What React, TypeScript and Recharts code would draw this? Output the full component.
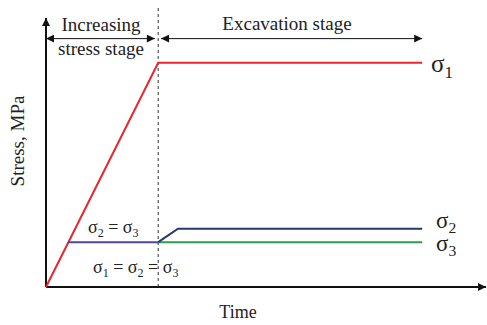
import * as React from 'react';
import { LineChart, Line, XAxis, YAxis, ReferenceLine } from 'recharts';

// time (arbitrary units) and stress (arbitrary MPa) for each principal stress path
const sigma1Time = [0, 5.1, 17.1];
const sigma1Stress = [0, 25, 25];

const equalTime = [1, 5.1];
const equalStress = [5, 5];

const sigma2Time = [5.1, 6, 17.1];
const sigma2Stress = [5, 6.5, 6.5];

const sigma3Time = [5.1, 17.1];
const sigma3Stress = [5, 5];

const stageBoundary = 5.1;
const timeMax = 20;
const stressMax = 30;
const stageArrowY = 27.7;
const stageArrowLeftEnd = 4.95;
const stageArrowRightStart = 5.23;
const stageArrowRightEnd = 17.1;

const toPoints = (t: number[], v: number[]) => t.map((x, i) => ({ t: x, v: v[i] }));

const serif = '"Liberation Serif", "Times New Roman", serif';

function Sigma({ x, y, sub, size }: { x: number; y: number; sub: string; size: number }) {
  return (
    <text x={x} y={y} fontFamily={serif} fontSize={size} fill="#222">
      σ
      <tspan fontSize={size * 0.68} dy={size * 0.22}>{sub}</tspan>
    </text>
  );
}

export default function App() {
  const W = 487;
  const H = 325;
  const sub = 12;

  return (
    <div style={{ position: 'absolute', left: 0, top: 0, width: W, height: H, background: '#fff' }}>
      <LineChart width={W} height={H} margin={{ top: 18, right: 1, bottom: 38, left: 46 }}>
        <defs>
          <marker
            id="arrowHead"
            viewBox="0 0 10 10"
            refX="10"
            refY="5"
            markerUnits="userSpaceOnUse"
            markerWidth="10"
            markerHeight="8"
            orient="auto-start-reverse"
          >
            <path d="M0,0 L10,5 L0,10 Z" fill="#111" />
          </marker>
        </defs>
        <XAxis dataKey="t" type="number" domain={[0, timeMax]} hide />
        <YAxis type="number" domain={[0, stressMax]} hide />

        {/* stage boundary */}
        <ReferenceLine
          segment={[{ x: stageBoundary, y: 0 }, { x: stageBoundary, y: 31.4 }]}
          stroke="#333"
          strokeWidth={1}
          strokeDasharray="3 3"
          ifOverflow="visible"
        />

        {/* axes with arrowheads */}
        <ReferenceLine
          segment={[{ x: 0, y: 0 }, { x: timeMax, y: 0 }]}
          stroke="#111"
          strokeWidth={2}
          markerEnd="url(#arrowHead)"
          ifOverflow="visible"
        />
        <ReferenceLine
          segment={[{ x: 0, y: 0 }, { x: 0, y: stressMax }]}
          stroke="#111"
          strokeWidth={2}
          markerEnd="url(#arrowHead)"
          ifOverflow="visible"
        />

        {/* stage arrows */}
        <ReferenceLine
          segment={[{ x: 0, y: stageArrowY }, { x: stageArrowLeftEnd, y: stageArrowY }]}
          stroke="#111"
          strokeWidth={1}
          markerStart="url(#arrowHead)"
          markerEnd="url(#arrowHead)"
          ifOverflow="visible"
        />
        <ReferenceLine
          segment={[{ x: stageArrowRightStart, y: stageArrowY }, { x: stageArrowRightEnd, y: stageArrowY }]}
          stroke="#111"
          strokeWidth={1}
          markerStart="url(#arrowHead)"
          markerEnd="url(#arrowHead)"
          ifOverflow="visible"
        />

        <Line
          data={toPoints(sigma1Time, sigma1Stress)}
          dataKey="v"
          stroke="#e8262b"
          strokeWidth={2}
          dot={false}
          isAnimationActive={false}
        />
        <Line
          data={toPoints(sigma3Time, sigma3Stress)}
          dataKey="v"
          stroke="#2f9b4e"
          strokeWidth={2}
          dot={false}
          isAnimationActive={false}
        />
        <Line
          data={toPoints(sigma2Time, sigma2Stress)}
          dataKey="v"
          stroke="#27386f"
          strokeWidth={2}
          dot={false}
          isAnimationActive={false}
        />
        <Line
          data={toPoints(equalTime, equalStress)}
          dataKey="v"
          stroke="#54459c"
          strokeWidth={2}
          dot={false}
          isAnimationActive={false}
        />

        {/* stage titles */}
        <text x={101} y={31} textAnchor="middle" fontFamily={serif} fontSize={19} fill="#222">
          Increasing
        </text>
        <text x={101} y={55} textAnchor="middle" fontFamily={serif} fontSize={19} fill="#222">
          stress stage
        </text>
        <text x={287} y={30} textAnchor="middle" fontFamily={serif} fontSize={19} fill="#222">
          Excavation stage
        </text>

        {/* axis titles */}
        <text x={238} y={318} textAnchor="middle" fontFamily={serif} fontSize={18} fill="#222">
          Time
        </text>
        <text
          x={24}
          y={141}
          textAnchor="middle"
          fontFamily={serif}
          fontSize={19}
          fill="#222"
          transform="rotate(-90 24 141)"
        >
          Stress, MPa
        </text>

        {/* series labels */}
        <Sigma x={431} y={72} sub="1" size={25} />
        <Sigma x={436} y={228} sub="2" size={23} />
        <Sigma x={436} y={251} sub="3" size={23} />

        {/* stress state notes */}
        <text x={88} y={233} fontFamily={serif} fontSize={18} fill="#222">
          σ<tspan fontSize={sub} dy={4}>2</tspan>
          <tspan dy={-4}> = σ</tspan>
          <tspan fontSize={sub} dy={4}>3</tspan>
        </text>
        <text x={93} y={273} fontFamily={serif} fontSize={18} fill="#222">
          σ<tspan fontSize={sub} dy={4}>1</tspan>
          <tspan dy={-4}> = σ</tspan>
          <tspan fontSize={sub} dy={4}>2</tspan>
          <tspan dy={-4}> = σ</tspan>
          <tspan fontSize={sub} dy={4}>3</tspan>
        </text>
      </LineChart>
    </div>
  );
}
